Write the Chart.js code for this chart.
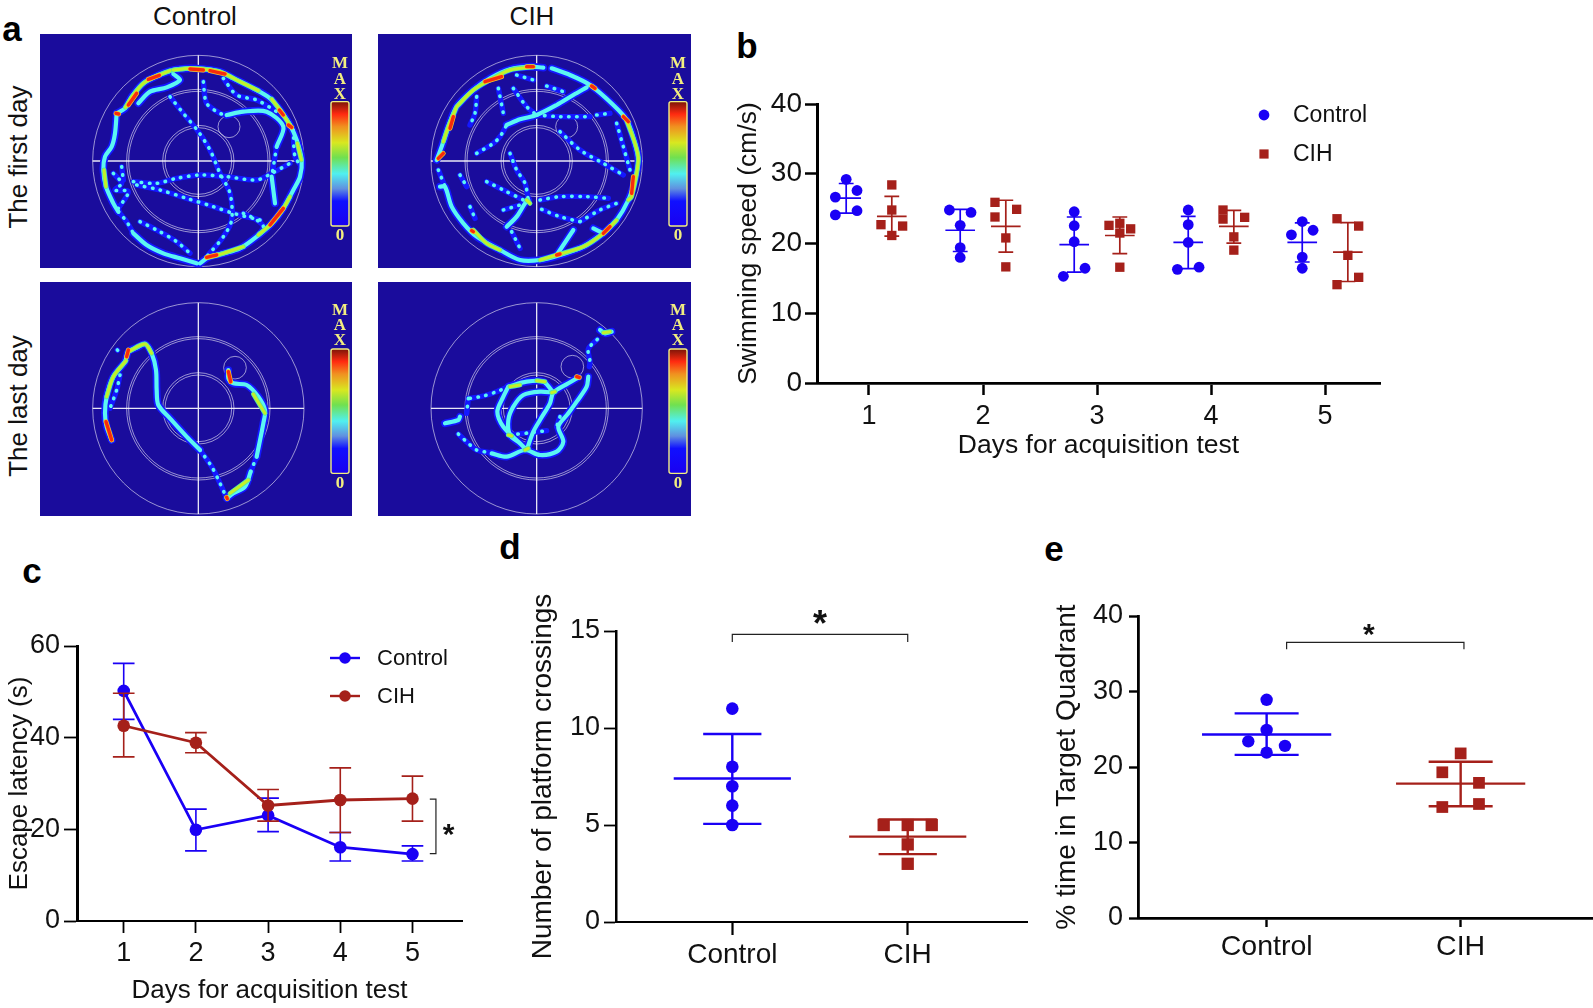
<!DOCTYPE html>
<html>
<head>
<meta charset="utf-8">
<title>Water maze figure</title>
<script src="https://cdn.jsdelivr.net/npm/chart.js@4/dist/chart.umd.min.js"></script>
<style>
  html, body { margin: 0; background: #fff; }
  #fig { position: relative; width: 1593px; height: 1008px; overflow: hidden; }
  canvas { position: absolute; }
  .lab { position: absolute; transform: translate(-50%, -50%); font-family: "Liberation Sans", Arial, sans-serif; color: #111; white-space: nowrap; }
  .rot { transform: translate(-50%, -50%) rotate(-90deg); }
  .letter { font-weight: bold; font-size: 35px; color: #000; }
</style>
</head>
<body>
<div id="fig">
  <div class="lab letter" style="left:12px;top:29px">a</div>
  <div class="lab letter" style="left:747px;top:46px">b</div>
  <div class="lab letter" style="left:32px;top:571px">c</div>
  <div class="lab letter" style="left:510px;top:547px">d</div>
  <div class="lab letter" style="left:1054px;top:549px">e</div>
  <div class="lab" style="left:195px;top:16px;font-size:26px">Control</div>
  <div class="lab" style="left:532px;top:16px;font-size:26px">CIH</div>
  <div class="lab rot" style="left:18px;top:157px;font-size:26px">The first day</div>
  <div class="lab rot" style="left:18px;top:406px;font-size:26px">The last day</div>
</div>
<script>
// ---- panel b: swimming speed, one row per day
const days = [1, 2, 3, 4, 5];
const speedControl = [
  [29.2, 27.6, 26.65, 24.7, 24.1],
  [24.8, 24.45, 22.6, 19.4, 18.0],
  [24.55, 22.55, 20.25, 16.45, 15.3],
  [24.8, 22.7, 20.15, 16.6, 16.3],
  [23.15, 21.9, 21.25, 18.05, 16.45],
];
const speedControlSlots = [
  [0, 1, -1, 1, -1],
  [-1, 1, 0, 0, 0],
  [0, 0, 0, 1, -1],
  [0, 0, 0, 1, -1],
  [0, 1, -1, 0, 0],
];
const speedControlMean = [26.5, 21.9, 19.85, 20.15, 20.15];
const speedControlHigh = [28.6, 24.9, 23.8, 23.9, 22.95];
const speedControlLow = [24.35, 18.85, 15.9, 16.4, 17.35];
const speedCih = [
  [28.4, 24.8, 22.7, 22.5, 21.15],
  [25.9, 24.9, 23.8, 20.8, 16.65],
  [22.9, 22.6, 22.1, 21.5, 16.6],
  [24.8, 23.75, 23.5, 20.95, 19.05],
  [23.55, 22.5, 18.3, 15.15, 14.1],
];
const speedCihSlots = [
  [0, 0, -1, 1, 0],
  [-1, 1, -1, 0, 0],
  [0, -1, 1, 0, 0],
  [-1, 1, -1, 0, 0],
  [-1, 1, 0, 1, -1],
];
const speedCihMean = [23.9, 22.45, 21.15, 22.45, 18.75];
const speedCihHigh = [26.75, 26.2, 23.8, 24.75, 23.0];
const speedCihLow = [21.05, 18.75, 18.55, 20.05, 14.55];

// ---- panel c: escape latency
const latencyControl = [50.2, 19.9, 23.05, 16.1, 14.6];
const latencyControlHigh = [56.2, 24.4, 26.8, 19.3, 16.4];
const latencyControlLow = [44.0, 15.3, 19.5, 13.1, 13.1];
const latencyCih = [42.6, 38.9, 25.2, 26.4, 26.7];
const latencyCihHigh = [49.7, 41.1, 28.7, 33.4, 31.6];
const latencyCihLow = [35.8, 36.7, 21.8, 19.3, 21.8];
const latencyBracket = [[5.24, 26.6], [5.325, 26.6], [5.325, 14.7], [5.24, 14.7]];

// ---- panel d: platform crossings
const groups = ["Control", "CIH"];
const crossingsControl = [11, 8, 7, 6, 5];
const crossingsControlSlots = [0, 0, 0, 0, 0];
const crossingsCih = [5, 5, 5, 4, 3];
const crossingsCihSlots = [-1, 0, 1, 0, 0];
const crossingsMean = [7.4, 4.4];
const crossingsHigh = [9.69, 5.28];
const crossingsLow = [5.06, 3.5];
const crossingsBracket = [[1, 14.43], [1, 14.83], [2, 14.83], [2, 14.43]];

// ---- panel e: time in target quadrant
const quadrantControl = [28.9, 24.9, 23.4, 22.8, 21.9];
const quadrantControlSlots = [0, 0, -1, 1, 0];
const quadrantCih = [21.8, 19.3, 17.9, 15.1, 14.7];
const quadrantCihSlots = [0, -1, 1, 1, -1];
const quadrantMean = [24.3, 17.8];
const quadrantHigh = [27.1, 20.7];
const quadrantLow = [21.6, 14.8];
const quadrantBracket = [[1.103, 35.6], [1.103, 36.5], [2.017, 36.5], [2.017, 35.6]];

// ---- panel a: swim traces in map units
const firstControl = {
  solid: [
    [[350, 340], [375, 325], [395, 290], [430, 250], [470, 228], [520, 210], [570, 205], [610, 207], [660, 215], [700, 235], [760, 265], [810, 295], [840, 330], [870, 375], [890, 420], [905, 480], [900, 530], [880, 570], [850, 625], [815, 670], [770, 710], [720, 745], [670, 760], [625, 772], [600, 790]],
    [[350, 340], [345, 400], [335, 440], [315, 470], [310, 510], [318, 560], [340, 610], [355, 635]],
    [[400, 700], [440, 735], [490, 760], [540, 775], [590, 790]],
    [[520, 222], [540, 240], [500, 262], [450, 275], [415, 310]],
    [[680, 345], [730, 335], [800, 335], [850, 380], [830, 440]],
    [[815, 530], [825, 610]],
  ],
  dots: [
    [[510, 290], [550, 340], [595, 395], [630, 450], [660, 520], [690, 580], [695, 660], [670, 710], [620, 770]],
    [[400, 545], [470, 550], [530, 535], [600, 525], [680, 530], [770, 540], [815, 520], [870, 490]],
    [[410, 555], [480, 570], [560, 595], [640, 620], [700, 640], [780, 660]],
    [[610, 245], [620, 310], [660, 340], [680, 345]],
    [[670, 235], [710, 285], [770, 300], [830, 335]],
    [[830, 440], [815, 530]],
    [[340, 520], [365, 550], [345, 570], [385, 575], [355, 625]],
    [[420, 665], [470, 690], [530, 725], [570, 760]],
    [[365, 500], [370, 540]],
    [[880, 390], [885, 470], [905, 500]],
    [[730, 640], [770, 660], [790, 680], [770, 710]],
    [[355, 635], [380, 665], [400, 700]],
  ],
  warm: [
    [[376, 322], [400, 285], [430, 250], [470, 228], [510, 212]],
    [[520, 210], [570, 205], [610, 207], [660, 215], [720, 245], [775, 272]],
    [[815, 297], [840, 330], [870, 375]],
    [[775, 705], [815, 670], [850, 625], [870, 590]],
    [[625, 772], [670, 760], [730, 740]],
    [[312, 510], [318, 560]],
    [[892, 430], [904, 480]],
  ],
  hot: [
    [[385, 315], [410, 280]],
    [[445, 238], [478, 226]],
    [[570, 207], [610, 210]],
    [[630, 212], [675, 222]],
    [[838, 330], [850, 345]],
    [[865, 375], [875, 382]],
    [[810, 675], [850, 625]],
    [[620, 772], [650, 765]],
    [[348, 340], [356, 342]],
  ],
};

const firstCih = {
  solid: [
    [[230, 480], [245, 440], [265, 380], [290, 320], [340, 270], [390, 235], [450, 208], [510, 200], [550, 203]],
    [[575, 205], [630, 225], [690, 255], [760, 315], [800, 360], [825, 430], [835, 480], [825, 540], [805, 600], [770, 660], [730, 700]],
    [[240, 560], [255, 560], [275, 620], [310, 670], [350, 710], [420, 750], [480, 780], [540, 780], [600, 765], [670, 740], [730, 700]],
    [[440, 375], [480, 358], [530, 345], [590, 315], [640, 285], [680, 262]],
    [[590, 765], [620, 720], [640, 690]],
    [[440, 680], [470, 650], [495, 610], [505, 600]],
    [[700, 685], [730, 700]],
  ],
  dots: [
    [[350, 460], [400, 430], [420, 410], [440, 375]],
    [[460, 265], [500, 320], [530, 345]],
    [[470, 225], [520, 240]],
    [[560, 258], [610, 275]],
    [[530, 345], [600, 350], [690, 350]],
    [[710, 345], [750, 340]],
    [[770, 370], [790, 440], [810, 510]],
    [[600, 395], [660, 450], [730, 490], [790, 525]],
    [[450, 460], [470, 510], [495, 550], [505, 600]],
    [[380, 545], [430, 570], [500, 605]],
    [[540, 600], [600, 590], [680, 590], [745, 595]],
    [[545, 628], [600, 650], [660, 665]],
    [[660, 665], [720, 630], [770, 610]],
    [[430, 630], [480, 615]],
    [[300, 525], [320, 560]],
    [[330, 620], [345, 655]],
    [[455, 695], [480, 745]],
    [[350, 290], [345, 340], [330, 375]],
    [[415, 265], [430, 340]],
    [[235, 510], [255, 560]],
  ],
  warm: [
    [[290, 320], [340, 270], [390, 240], [450, 210], [520, 201]],
    [[250, 425], [265, 380], [290, 320]],
    [[800, 362], [825, 430], [835, 480], [815, 590], [805, 600]],
    [[340, 690], [380, 730], [420, 750]],
    [[500, 600], [510, 610]],
    [[590, 765], [670, 740], [730, 700], [770, 660]],
    [[540, 780], [590, 765]],
  ],
  hot: [
    [[235, 475], [250, 460]],
    [[270, 385], [280, 350]],
    [[375, 245], [425, 230]],
    [[500, 200], [520, 200]],
    [[820, 530], [815, 580]],
    [[730, 700], [750, 680]],
    [[790, 350], [805, 365]],
    [[695, 258], [705, 265]],
    [[335, 692], [340, 695]],
    [[590, 765], [600, 762]],
  ],
};

const lastControl = {
  solid: [
    [[335, 510], [320, 470], [315, 430], [320, 380], [340, 320], [375, 275], [385, 245], [410, 233], [435, 222], [455, 250], [468, 300], [470, 360], [475, 405], [510, 445], [560, 500], [600, 540]],
    [[680, 685], [700, 670], [735, 650], [752, 605]],
    [[770, 560], [790, 460], [795, 420], [775, 380], [740, 345], [700, 340], [685, 325], [685, 300]],
  ],
  dots: [
    [[600, 540], [635, 590], [660, 640], [680, 685]],
    [[752, 605], [770, 560]],
    [[360, 315], [350, 360], [330, 415]],
    [[352, 240], [353, 241]],
  ],
  warm: [
    [[320, 380], [340, 320], [378, 272]],
    [[385, 245], [435, 222], [455, 250]],
    [[760, 372], [795, 430]],
    [[690, 670], [745, 630]],
  ],
  hot: [
    [[318, 455], [335, 510]],
    [[380, 260], [385, 240]],
    [[685, 305], [692, 335]],
    [[680, 682], [682, 686]],
  ],
};

const lastCih = {
  solid: [
    [[720, 180], [735, 190], [755, 185]],
    [[685, 320], [680, 350], [650, 395], [625, 430], [595, 470], [610, 515], [590, 545], [540, 555], [495, 540], [440, 560], [395, 550]],
    [[655, 322], [625, 340], [580, 368], [570, 400], [540, 450], [520, 485], [500, 540]],
    [[445, 350], [500, 335], [550, 335], [580, 368]],
    [[255, 460], [295, 450], [300, 440]],
    [[580, 368], [540, 365], [490, 375], [460, 410], [445, 450], [450, 495], [480, 520], [500, 540], [480, 520], [430, 470], [412, 425], [430, 380], [445, 350]],
  ],
  dots: [
    [[712, 208], [685, 237], [690, 275], [688, 290]],
    [[330, 385], [370, 378], [410, 365], [445, 350]],
    [[325, 385], [320, 430]],
    [[295, 492], [325, 520], [350, 540], [390, 548]],
    [[450, 495], [520, 487], [560, 482]],
    [[600, 440], [590, 470]],
  ],
  warm: [
    [[730, 188], [750, 185]],
    [[450, 350], [480, 345]],
    [[530, 332], [555, 335]],
    [[445, 495], [455, 498]],
    [[495, 540], [505, 535]],
    [[575, 368], [585, 365]],
  ],
  hot: [
    [[650, 320], [658, 322]],
  ],
};

const blue = "#1a00f5";
const red = "#a5201a";
const gap = { x: NaN, y: NaN };

Chart.defaults.font.family = '"Liberation Sans", Arial, sans-serif';
Chart.defaults.color = "#111";

const toPoints = (lines) => lines.flatMap((line) => [...line.map(([x, y]) => ({ x, y })), gap]);

function pathSet(lines, color, width, extra) {
  return { data: toPoints(lines), showLine: true, borderColor: color, borderWidth: width, pointRadius: 0, clip: false, ...extra };
}

function markSet(points, color, style, radius) {
  return { data: points, pointStyle: style, pointRadius: radius, pointBackgroundColor: color, pointBorderWidth: 0, showLine: false, clip: false };
}

// Whiskers with caps, as line pieces split by gaps.
function errorLines(xs, lows, highs, cap) {
  return xs.flatMap((x, i) => [
    [[x - cap, highs[i]], [x + cap, highs[i]]],
    [[x, highs[i]], [x, lows[i]]],
    [[x - cap, lows[i]], [x + cap, lows[i]]],
  ]);
}

const meanLines = (xs, means, half) => xs.map((x, i) => [[x - half, means[i]], [x + half, means[i]]]);
const slotted = (x, ys, slots, step) => ys.map((y, i) => ({ x: x + slots[i] * step, y }));

// Chart.js paints the first dataset last, so lists here read back to front.
const backToFront = (sets) => sets.slice().reverse();

// Axes pinned so the plot area lands on given page pixels.
function buildAxes(box, plot, xAxis, yAxis) {
  const x = {
    type: "linear",
    min: xAxis.min,
    max: xAxis.max,
    border: { color: "#000", width: xAxis.line },
    grid: { drawOnChartArea: false, color: "#000", tickLength: xAxis.tick, tickWidth: xAxis.tickWidth },
    ticks: {
      font: { size: xAxis.size },
      color: "#111",
      padding: xAxis.pad,
      autoSkip: false,
      maxRotation: 0,
      callback: xAxis.format,
    },
    afterBuildTicks: (s) => { s.ticks = xAxis.values.map((value) => ({ value })); },
    afterFit: (s) => {
      s.height = box.bottom - plot.bottom;
      s.paddingLeft = 0;
      s.paddingRight = 0;
    },
  };
  if (xAxis.title) {
    x.title = { display: true, text: xAxis.title, font: { size: xAxis.titleSize, lineHeight: 1.2 }, color: "#111", padding: { top: 0, bottom: xAxis.titlePad } };
  }
  const y = {
    type: "linear",
    min: yAxis.min,
    max: yAxis.max,
    border: { color: "#000", width: yAxis.line },
    grid: { drawOnChartArea: false, color: "#000", tickLength: yAxis.tick, tickWidth: yAxis.tickWidth },
    ticks: { font: { size: yAxis.size }, color: "#111", padding: yAxis.pad, stepSize: yAxis.step },
    title: { display: true, text: yAxis.title, font: { size: yAxis.titleSize, lineHeight: 1.2 }, color: "#111", padding: { top: yAxis.titlePad, bottom: 0 } },
    afterFit: (s) => {
      s.width = plot.left - box.left;
      s.paddingTop = 0;
      s.paddingBottom = 0;
    },
  };
  return { x, y };
}

// Stars and hand-made legends, placed after the datasets.
function notesPlugin(stars, legend) {
  return {
    id: "notes",
    afterDraw(chart) {
      const { ctx, scales } = chart;
      ctx.save();
      ctx.fillStyle = "#111";
      ctx.textAlign = "center";
      ctx.textBaseline = "alphabetic";
      stars.forEach((s) => {
        ctx.font = `bold ${s.size}px "Liberation Sans"`;
        ctx.fillText("*", scales.x.getPixelForValue(s.x), scales.y.getPixelForValue(s.y) + s.size * 0.58);
      });
      legend.forEach((item) => {
        const cx = item.x - chart.canvas.offsetLeft;
        const cy = item.y - chart.canvas.offsetTop;
        ctx.fillStyle = item.color;
        ctx.strokeStyle = item.color;
        if (item.lineHalf) {
          ctx.lineWidth = 2.4;
          ctx.beginPath();
          ctx.moveTo(cx - item.lineHalf, cy);
          ctx.lineTo(cx + item.lineHalf, cy);
          ctx.stroke();
        }
        if (item.square) {
          ctx.fillRect(cx - item.r, cy - item.r, item.r * 2, item.r * 2);
        } else {
          ctx.beginPath();
          ctx.arc(cx, cy, item.r, 0, Math.PI * 2);
          ctx.fill();
        }
        ctx.fillStyle = "#111";
        ctx.textAlign = "left";
        ctx.textBaseline = "middle";
        ctx.font = `${item.size}px "Liberation Sans"`;
        ctx.fillText(item.label, item.textX - chart.canvas.offsetLeft, cy + 1);
      });
      ctx.restore();
    },
  };
}

function drawPanel(box, plot, axes, datasets, stars, legend) {
  const canvas = document.createElement("canvas");
  canvas.width = box.right - box.left;
  canvas.height = box.bottom - box.top;
  canvas.style.left = box.left + "px";
  canvas.style.top = box.top + "px";
  document.getElementById("fig").appendChild(canvas);
  return new Chart(canvas, {
    type: "scatter",
    data: { datasets: backToFront(datasets) },
    plugins: [notesPlugin(stars, legend)],
    options: {
      responsive: false,
      animation: false,
      events: [],
      layout: { padding: { top: plot.top - box.top, right: box.right - plot.right, left: 0, bottom: 0 } },
      scales: buildAxes(box, plot, axes.x, axes.y),
      plugins: { legend: { display: false }, tooltip: { enabled: false } },
    },
  });
}

// Panel b
const speedControlX = days.map((d) => d - 0.2);
const speedCihX = days.map((d) => d + 0.2);
const speedDatasets = [
  pathSet(errorLines(speedControlX, speedControlLow, speedControlHigh, 0.065), blue, 1.7),
  pathSet(meanLines(speedControlX, speedControlMean, 0.13), blue, 1.7),
  pathSet(errorLines(speedCihX, speedCihLow, speedCihHigh, 0.065), red, 1.7),
  pathSet(meanLines(speedCihX, speedCihMean, 0.13), red, 1.7),
];
days.forEach((day, i) => {
  speedDatasets.push(markSet(slotted(day - 0.2, speedControl[i], speedControlSlots[i], 0.095), blue, "circle", 5.4));
  speedDatasets.push(markSet(slotted(day + 0.2, speedCih[i], speedCihSlots[i], 0.095), red, "rect", 6.6));
});

drawPanel(
  { left: 720, top: 80, right: 1400, bottom: 470 },
  { left: 817, top: 104, right: 1380, bottom: 383 },
  {
    x: { min: 0.544, max: 5.482, values: days, format: (v) => String(v), size: 27, pad: 5, tick: 12, tickWidth: 2.5, line: 2.8, title: "Days for acquisition test", titleSize: 26.5, titlePad: 8 },
    y: { min: 0, max: 40, step: 10, size: 28, pad: 3, tick: 12, tickWidth: 2.5, line: 3, title: "Swimming speed (cm/s)", titleSize: 26.5, titlePad: 13 },
  },
  speedDatasets,
  [],
  [
    { x: 1264, y: 115, r: 5.4, color: blue, label: "Control", textX: 1293, size: 23 },
    { x: 1264, y: 154, r: 4.6, square: true, color: red, label: "CIH", textX: 1293, size: 23 },
  ],
);

// Panel c
drawPanel(
  { left: 0, top: 630, right: 480, bottom: 1008 },
  { left: 77, top: 646, right: 462, bottom: 921 },
  {
    x: { min: 0.353, max: 5.686, values: days, format: (v) => String(v), size: 27, pad: 4, tick: 12, tickWidth: 1.8, line: 2, title: "Days for acquisition test", titleSize: 26, titlePad: 2 },
    y: { min: 0, max: 60, step: 20, size: 27, pad: 4, tick: 13, tickWidth: 1.8, line: 3, title: "Escape latency (s)", titleSize: 26, titlePad: 4 },
  },
  [
    pathSet([latencyBracket], "#222", 1.2),
    pathSet(errorLines(days, latencyControlLow, latencyControlHigh, 0.15), blue, 1.6),
    pathSet([days.map((d, i) => [d, latencyControl[i]])], blue, 2.8),
    markSet(days.map((d, i) => ({ x: d, y: latencyControl[i] })), blue, "circle", 6.3),
    pathSet(errorLines(days, latencyCihLow, latencyCihHigh, 0.15), red, 1.6),
    pathSet([days.map((d, i) => [d, latencyCih[i]])], red, 2.8),
    markSet(days.map((d, i) => ({ x: d, y: latencyCih[i] })), red, "circle", 6.3),
  ],
  [{ x: 5.5, y: 20.5, size: 30 }],
  [
    { x: 345, y: 658, r: 5.8, lineHalf: 15, color: blue, label: "Control", textX: 377, size: 22 },
    { x: 345, y: 696, r: 5.8, lineHalf: 15, color: red, label: "CIH", textX: 377, size: 22 },
  ],
);

// Panel d
drawPanel(
  { left: 515, top: 590, right: 1040, bottom: 990 },
  { left: 616, top: 631, right: 1027, bottom: 922 },
  {
    x: { min: 0.337, max: 2.68, values: [1, 2], format: (v) => groups[v - 1], size: 28, pad: 3, tick: 13, tickWidth: 2.2, line: 2 },
    y: { min: 0, max: 15, step: 5, size: 27, pad: 4, tick: 12, tickWidth: 1.8, line: 2.5, title: "Number of platform crossings", titleSize: 28, titlePad: 11 },
  },
  [
    pathSet([crossingsBracket], "#222", 1.2),
    markSet(slotted(1, crossingsControl, crossingsControlSlots, 0.137), blue, "circle", 6.3),
    markSet(slotted(2, crossingsCih, crossingsCihSlots, 0.137), red, "rect", 8.7),
    pathSet(errorLines([1], [crossingsLow[0]], [crossingsHigh[0]], 0.166), blue, 2.4),
    pathSet(errorLines([2], [crossingsLow[1]], [crossingsHigh[1]], 0.166), red, 2.4),
    pathSet(meanLines([1], [crossingsMean[0]], 0.334), blue, 2.4),
    pathSet(meanLines([2], [crossingsMean[1]], 0.334), red, 2.4),
  ],
  [{ x: 1.5, y: 15.8, size: 36 }],
  [],
);

// Panel e: the canvas runs past the page edge, a right margin keeps the axis length
drawPanel(
  { left: 1040, top: 590, right: 1625, bottom: 990 },
  { left: 1138, top: 616, right: 1592, bottom: 918 },
  {
    x: { min: 0.337, max: 2.677, values: [1, 2], format: (v) => groups[v - 1], size: 28.5, pad: 3, tick: 9, tickWidth: 2.4, line: 2.8 },
    y: { min: 0, max: 40, step: 10, size: 27, pad: 6, tick: 9, tickWidth: 2.4, line: 2.8, title: "% time in Target Quadrant", titleSize: 28, titlePad: 10 },
  },
  [
    pathSet([quadrantBracket], "#222", 1.2),
    markSet(slotted(1, quadrantControl, quadrantControlSlots, 0.0945), blue, "circle", 6.2),
    markSet(slotted(2, quadrantCih, quadrantCihSlots, 0.0945), red, "rect", 8.3),
    pathSet(errorLines([1], [quadrantLow[0]], [quadrantHigh[0]], 0.165), blue, 2.4),
    pathSet(errorLines([2], [quadrantLow[1]], [quadrantHigh[1]], 0.165), red, 2.4),
    pathSet(meanLines([1], [quadrantMean[0]], 0.333), blue, 2.4),
    pathSet(meanLines([2], [quadrantMean[1]], 0.333), red, 2.4),
  ],
  [{ x: 1.527, y: 38.6, size: 30 }],
  [],
);

// ---- panel a: each heat map is a chart in map units
const barStops = [
  [0, "#7a1508"], [0.1, "#ff2a10"], [0.2, "#f09020"], [0.33, "#d8e820"],
  [0.45, "#70e050"], [0.58, "#50f0f0"], [0.7, "#6090e0"], [0.8, "#1010ff"], [1, "#1a00f0"],
];

const arenaPlugin = {
  id: "arena",
  beforeDatasetsDraw(chart, args, opts) {
    const { ctx, chartArea, scales } = chart;
    const mapX = (v) => scales.x.getPixelForValue(v);
    const mapY = (v) => scales.y.getPixelForValue(v);
    const unit = Math.abs(mapX(3) - mapX(0)) / 3;
    ctx.save();
    ctx.fillStyle = "#1a0c9c";
    ctx.fillRect(chartArea.left, chartArea.top, chartArea.width, chartArea.height);

    const cx = mapX(opts.center[0]);
    const cy = mapY(opts.center[1]);
    ctx.strokeStyle = "rgba(255,255,255,0.7)";
    ctx.lineWidth = 0.8;
    opts.rings.forEach((r) => {
      ctx.beginPath();
      ctx.arc(cx, cy, r * unit, 0, Math.PI * 2);
      ctx.stroke();
    });
    ctx.beginPath();
    ctx.arc(mapX(opts.platform[0]), mapY(opts.platform[1]), opts.platform[2] * unit, 0, Math.PI * 2);
    ctx.stroke();
    ctx.strokeStyle = "rgba(255,255,255,0.9)";
    ctx.lineWidth = 1.3;
    const reach = opts.rings[0] * unit;
    ctx.beginPath();
    ctx.moveTo(cx - reach, cy);
    ctx.lineTo(cx + reach, cy);
    ctx.moveTo(cx, cy - reach);
    ctx.lineTo(cx, cy + reach);
    ctx.stroke();

    const [bx0, by0, bx1, by1] = opts.bar;
    const x0 = mapX(bx0);
    const y0 = mapY(by0);
    const w = mapX(bx1) - x0;
    const h = mapY(by1) - y0;
    const fill = ctx.createLinearGradient(0, y0, 0, y0 + h);
    barStops.forEach(([at, color]) => fill.addColorStop(at, color));
    ctx.fillStyle = fill;
    ctx.strokeStyle = "#f2ee80";
    ctx.lineWidth = 1.4;
    ctx.beginPath();
    ctx.roundRect(x0, y0, w, h, 2);
    ctx.fill();
    ctx.stroke();

    ctx.fillStyle = "#f2ee80";
    ctx.textAlign = "center";
    ctx.textBaseline = "middle";
    ctx.font = 'bold 17px "Liberation Serif"';
    const barMid = x0 + w / 2;
    ["M", "A", "X"].forEach((ch, i) => ctx.fillText(ch, barMid, mapY(opts.labelY[i])));
    ctx.fillText("0", barMid, mapY(opts.labelY[3]));
    ctx.restore();
  },
};

// Heat colours as stacked strokes: halo, cyan core, warm, hot.
function traceSets(trace) {
  const thin = trace.dots;
  const thick = trace.solid;
  const soft = { tension: 0.3, borderCapStyle: "round", borderJoinStyle: "round" };
  return [
    pathSet(thin, "#1418ff", 5.4, soft),
    pathSet(thick, "#1418ff", 7.6, soft),
    pathSet(thin, "#5cf6f2", 3.6, { ...soft, borderDash: [0.5, 7.5] }),
    pathSet(thick, "#5cf6f2", 4.2, soft),
    pathSet(trace.warm, "#58e8a0", 4.8, soft),
    pathSet(trace.warm, "#c4f028", 3, soft),
    pathSet(trace.hot, "#f8c820", 4.8, soft),
    pathSet(trace.hot, "#f82a0c", 3.4, soft),
  ];
}

function drawArena(box, range, trace, layout) {
  const canvas = document.createElement("canvas");
  canvas.width = box.width;
  canvas.height = box.height;
  canvas.style.left = box.left + "px";
  canvas.style.top = box.top + "px";
  document.getElementById("fig").appendChild(canvas);
  return new Chart(canvas, {
    type: "scatter",
    data: { datasets: backToFront(traceSets(trace)) },
    plugins: [arenaPlugin],
    options: {
      responsive: false,
      animation: false,
      events: [],
      layout: { padding: 0 },
      scales: {
        x: { type: "linear", display: false, min: range.x[0], max: range.x[1] },
        y: { type: "linear", display: false, min: range.y[0], max: range.y[1], reverse: true },
      },
      plugins: { legend: { display: false }, tooltip: { enabled: false }, arena: layout },
    },
  });
}

const ringRadii = [317, 215, 209, 107, 100];

drawArena({ left: 40, top: 34, width: 312, height: 234 }, { x: [120, 1056], y: [102, 804] }, firstControl,
  { center: [595, 483], rings: ringRadii, platform: [687, 380, 33], bar: [993, 305, 1047, 678], labelY: [190, 238, 283, 708] });
drawArena({ left: 378, top: 34, width: 313, height: 234 }, { x: [54, 993], y: [102, 804] }, firstCih,
  { center: [530, 483], rings: ringRadii, platform: [620, 380, 33], bar: [927, 305, 981, 678], labelY: [190, 238, 283, 708] });
drawArena({ left: 40, top: 282, width: 312, height: 234 }, { x: [120, 1056], y: [36, 738] }, lastControl,
  { center: [595, 415], rings: ringRadii, platform: [705, 293, 34], bar: [993, 237, 1047, 610], labelY: [122, 168, 212, 640] });
drawArena({ left: 378, top: 282, width: 313, height: 234 }, { x: [54, 993], y: [36, 738] }, lastCih,
  { center: [530, 415], rings: ringRadii, platform: [637, 290, 34], bar: [927, 237, 981, 610], labelY: [122, 168, 212, 640] });
</script>
</body>
</html>
